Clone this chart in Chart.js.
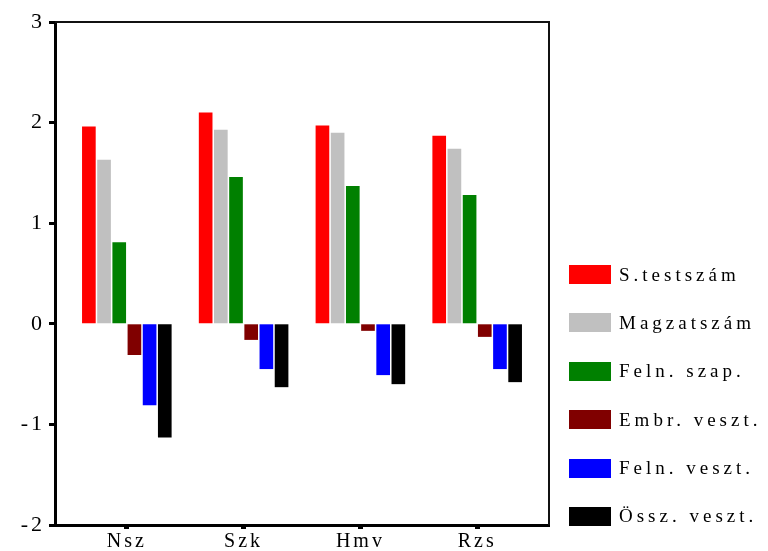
<!DOCTYPE html>
<html>
<head>
<meta charset="utf-8">
<script src="https://cdn.jsdelivr.net/npm/chart.js@4.4.0/dist/chart.umd.min.js"></script>
<style>
    body { margin: 0; background: #fff; }
    .wrap { position: relative; width: 768px; height: 551px; }
    #legend {
        position: absolute; left: 569px; top: 265px;
        font-family: "Liberation Serif", "Times New Roman", serif;
        font-size: 19px; letter-spacing: 4px; color: #000;
    }
    .item { display: flex; align-items: center; height: 19px; margin-bottom: 29.4px; white-space: nowrap; }
    .box { width: 42px; height: 19px; margin-right: 8px; }
</style>
</head>
<body>
<div class="wrap">
    <canvas id="chart"></canvas>
    <div id="legend"></div>
</div>
<script>
// Data
const categories = ['Nsz', 'Szk', 'Hmv', 'Rzs'];
const seriesNames = ['S.testszám', 'Magzatszám', 'Feln. szap.', 'Embr. veszt.', 'Feln. veszt.', 'Össz. veszt.'];
const testszam = [1.96, 2.10, 1.97, 1.87];
const magzatszam = [1.63, 1.93, 1.90, 1.74];
const felnSzap = [0.81, 1.46, 1.37, 1.28];
const embrVeszt = [-0.31, -0.16, -0.07, -0.13];
const felnVeszt = [-0.81, -0.45, -0.51, -0.45];
const osszVeszt = [-1.13, -0.63, -0.60, -0.58];
const yTicks = [-2, -1, 0, 1, 2, 3];

const seriesValues = [testszam, magzatszam, felnSzap, embrVeszt, felnVeszt, osszVeszt];
const colors = ['#ff0000', '#c0c0c0', '#008000', '#800000', '#0000ff', '#000000'];
const fontFamily = '"Liberation Serif", "Times New Roman", serif';

// Wide letter spacing like the original export
const spacingPlugin = {
    id: 'spacing',
    beforeUpdate(chart) { chart.ctx.letterSpacing = '3px'; },
    beforeDraw(chart) { chart.ctx.letterSpacing = '3px'; }
};

// Top and right frame lines
const framePlugin = {
    id: 'frame',
    afterDraw(chart) {
        const { ctx, chartArea } = chart;
        ctx.save();
        ctx.strokeStyle = '#111';
        ctx.lineWidth = 2;
        ctx.beginPath();
        ctx.moveTo(chartArea.left, chartArea.top);
        ctx.lineTo(chartArea.right, chartArea.top);
        ctx.lineTo(chartArea.right, chartArea.bottom);
        ctx.stroke();
        ctx.restore();
    }
};

const chart = new Chart(document.getElementById('chart'), {
    type: 'bar',
    data: {
        datasets: seriesValues.map((values, i) => ({
            label: seriesNames[i],
            data: values.map((v, j) => ({ x: j, y: v })),
            backgroundColor: colors[i],
            borderWidth: 0,
            categoryPercentage: 0.78,
            barPercentage: 0.9
        }))
    },
    options: {
        responsive: true,
        maintainAspectRatio: false,
        animation: false,
        layout: { padding: { top: 22, right: 219, left: 0, bottom: 0 } },
        plugins: {
            legend: { display: false },
            tooltip: { enabled: false }
        },
        scales: {
            x: {
                type: 'linear',
                offset: false,
                min: -0.615,
                max: 3.615,
                afterFit(scale) { scale.height = 26; },
                border: { display: true, color: '#000', width: 3 },
                grid: { offset: false, drawOnChartArea: false, drawTicks: true, tickLength: 4, tickWidth: 5, tickColor: '#000' },
                ticks: {
                    stepSize: 1,
                    includeBounds: false,
                    autoSkip: false,
                    maxRotation: 0,
                    padding: 1,
                    color: '#000',
                    font: { family: fontFamily, size: 20 },
                    callback: (v) => categories[v] ?? ''
                }
            },
            y: {
                min: -2,
                max: 3,
                afterFit(scale) { scale.width = 55; },
                afterBuildTicks(scale) { scale.ticks = yTicks.map(v => ({ value: v })); },
                border: { display: true, color: '#000', width: 3 },
                grid: { drawOnChartArea: false, drawTicks: true, tickLength: 6, tickWidth: 3, tickColor: '#000' },
                ticks: {
                    padding: 4,
                    color: '#000',
                    font: { family: fontFamily, size: 22 }
                }
            }
        }
    },
    plugins: [spacingPlugin, framePlugin]
});

// HTML legend from the chart datasets
const legend = document.getElementById('legend');
chart.data.datasets.forEach(ds => {
    const item = document.createElement('div');
    item.className = 'item';
    item.innerHTML = `<span class="box" style="background:${ds.backgroundColor}"></span><span>${ds.label}</span>`;
    legend.appendChild(item);
});
</script>
</body>
</html>
